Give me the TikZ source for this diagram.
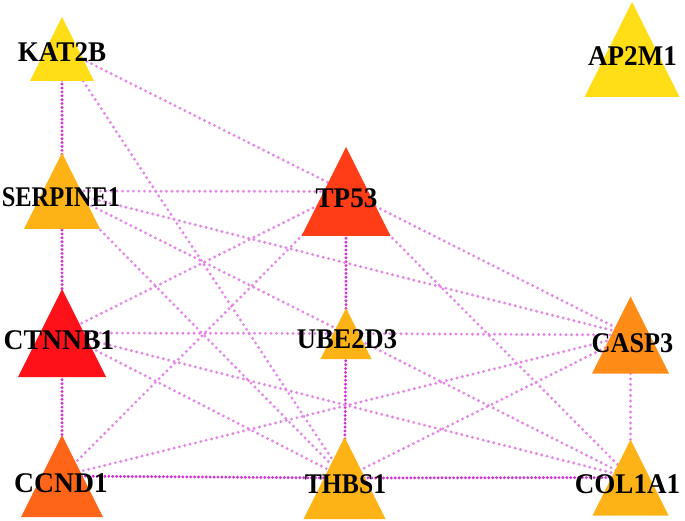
\documentclass[tikz,border=0pt]{standalone}
\usepackage{fontspec}
\setmainfont{Liberation Serif}
\definecolor{edgec}{HTML}{E585E8}
\definecolor{edgedk}{HTML}{D62ED8}
\definecolor{cyellow}{HTML}{FFDD17}
\definecolor{cgold}{HTML}{FDB316}
\definecolor{ctp}{HTML}{FF3D17}
\definecolor{cred}{HTML}{FF1119}
\definecolor{ccasp}{HTML}{FF8C17}
\definecolor{cccnd}{HTML}{FF6518}
\newcommand\mytri[3]{\fill[#3,shift={(#1)}] (0,-#2/2) -- (#2/2,#2/2) -- (-#2/2,#2/2) -- cycle;}
\newcommand\lab[2]{\scalebox{#1}[1]{#2}}
\begin{document}
\begin{tikzpicture}[x=1pt,y=-1pt,
  edge/.style={draw=edgec, line width=3.2pt, line cap=round, dash pattern=on 0pt off 5.5pt},
  edgedark/.style={draw=edgedk, line width=3.2pt, line cap=round, dash pattern=on 0pt off 3.9pt},
  lbl/.style={anchor=base, font=\fontsize{28.5}{28.5}\selectfont\bfseries, inner sep=0pt, text=black}]
\useasboundingbox[fill=white] (0,0) rectangle (685,521);
% node centres
\coordinate (KAT2B) at (62,49);
\coordinate (AP2M1) at (632,49.5);
\coordinate (SERPINE1) at (62,191);
\coordinate (TP53) at (346,191.5);
\coordinate (CTNNB1) at (62,333);
\coordinate (UBE2D3) at (346,333.5);
\coordinate (CASP3) at (630.5,335);
\coordinate (CCND1) at (62,476);
\coordinate (THBS1) at (344.5,478);
\coordinate (COL1A1) at (630.5,477.5);
% edges
\draw[edgedark] (KAT2B) -- (SERPINE1);
\draw[edgedark] (SERPINE1) -- (CTNNB1);
\draw[edgedark] (CTNNB1) -- (CCND1);
\draw[edgedark] (TP53) -- (UBE2D3);
\draw[edgedark] (UBE2D3) -- (THBS1);
\draw[edgedark] (CCND1) -- (THBS1);
\draw[edgedark] (THBS1) -- (COL1A1);
\draw[edge] (KAT2B) -- (TP53);
\draw[edge] (KAT2B) -- (THBS1);
\draw[edge] (SERPINE1) -- (TP53);
\draw[edge] (SERPINE1) -- (CASP3);
\draw[edge] (SERPINE1) -- (UBE2D3);
\draw[edge] (SERPINE1) -- (THBS1);
\draw[edge] (TP53) -- (CASP3);
\draw[edge] (TP53) -- (COL1A1);
\draw[edge] (CTNNB1) -- (TP53);
\draw[edge] (CTNNB1) -- (UBE2D3);
\draw[edge] (UBE2D3) -- (CASP3);
\draw[edge] (UBE2D3) -- (COL1A1);
\draw[edge] (CTNNB1) -- (COL1A1);
\draw[edge] (CTNNB1) -- (THBS1);
\draw[edge] (CCND1) -- (TP53);
\draw[edge] (CCND1) -- (CASP3);
\draw[edge] (THBS1) -- (CASP3);
\draw[edge] (CASP3) -- (COL1A1);
% triangles
\mytri{KAT2B}{64}{cyellow}
\mytri{AP2M1}{95}{cyellow}
\mytri{SERPINE1}{76}{cgold}
\mytri{TP53}{89}{ctp}
\mytri{CTNNB1}{88}{cred}
\mytri{UBE2D3}{51}{cgold}
\mytri{CASP3}{77}{ccasp}
\mytri{CCND1}{82}{cccnd}
\mytri{THBS1}{82}{cgold}
\mytri{COL1A1}{76}{cgold}
% labels
\node[lbl] (lKAT2B) at (62,62) {\lab{0.95}{KAT2B}};
\node[lbl] (lAP2M1) at (632.5,66) {\lab{0.95}{AP2M1}};
\node[lbl] (lSERPINE1) at (61,207) {\lab{0.86}{SERPINE1}};
\node[lbl] (lTP53) at (346.5,208) {\lab{0.95}{TP53}};
\node[lbl] (lCTNNB1) at (59,349) {\lab{0.97}{CTNNB1}};
\node[lbl] (lUBE2D3) at (347,348) {\lab{0.93}{UBE2D3}};
\node[lbl] (lCASP3) at (632.5,352) {\lab{0.92}{CASP3}};
\node[lbl] (lCCND1) at (61,492) {\lab{0.97}{CCND1}};
\node[lbl] (lTHBS1) at (345.5,493) {\lab{0.9}{THBS1}};
\node[lbl] (lCOL1A1) at (627.5,493) {\lab{0.95}{COL1A1}};
\end{tikzpicture}
\end{document}
